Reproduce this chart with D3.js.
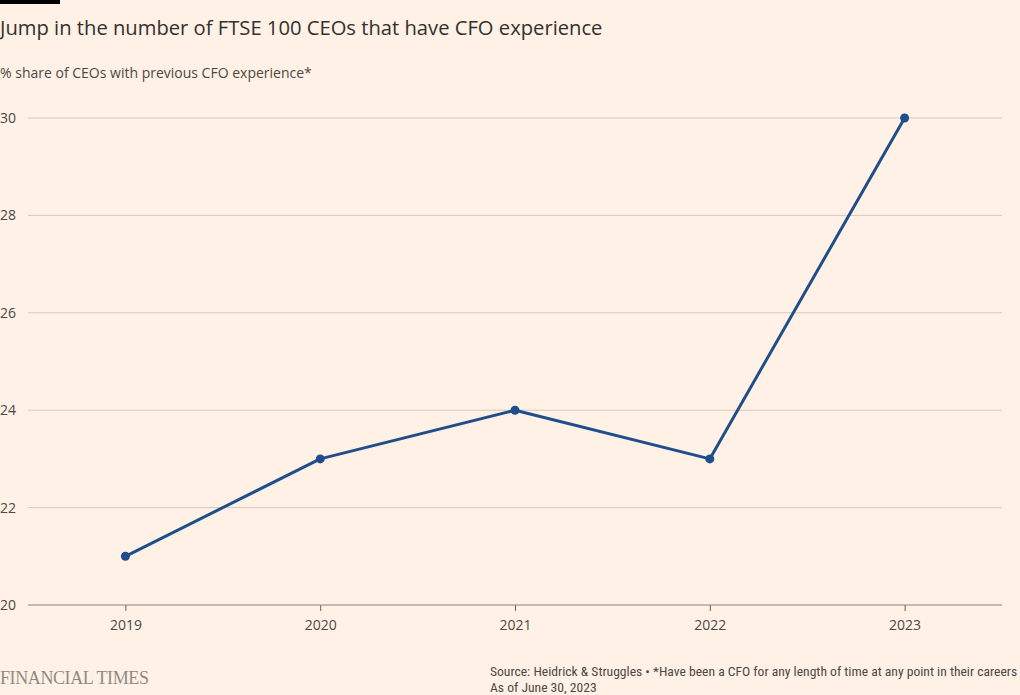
<!DOCTYPE html>
<html><head><meta charset="utf-8">
<script src="https://cdn.jsdelivr.net/npm/d3@7"></script>
<style>
html,body{margin:0;padding:0;background:#fff1e5;}
svg{display:block;font-family:"Open Sans","Noto Sans",sans-serif;}
</style></head><body>
<svg id="c" width="1020" height="695"></svg>
<script>
const years = ["2019","2020","2021","2022","2023"];
const shareValues = [21, 23, 24, 23, 30];
const yTicks = [20, 22, 24, 26, 28, 30];

(function(){
const svg = d3.select("#c");
const W = 1020, H = 695;
const mLeft = 28, mRight = 1002, mTop = 118, mBottom = 605;

svg.append("rect").attr("width", W).attr("height", H).attr("fill", "#fff1e5");
svg.append("rect").attr("x", 0).attr("y", 0).attr("width", 60).attr("height", 4).attr("fill", "#000");

svg.append("text").attr("x", 0).attr("y", 35).attr("font-size", 20.2).attr("fill", "#33302e")
  .text("Jump in the number of FTSE 100 CEOs that have CFO experience");
svg.append("text").attr("x", 0).attr("y", 78).attr("font-size", 14).attr("fill", "#4d4845")
  .text("% share of CEOs with previous CFO experience*");

const x = d3.scalePoint().domain(years).range([mLeft, mRight]).padding(0.5);
const y = d3.scaleLinear().domain([20, 30]).range([mBottom, mTop]);

const grid = svg.append("g");
grid.selectAll("line").data(yTicks.filter(t => t !== 20)).join("line")
  .attr("x1", mLeft).attr("x2", mRight)
  .attr("y1", d => y(d)).attr("y2", d => y(d))
  .attr("stroke", "#d9c8bb").attr("stroke-width", 1);

svg.append("g").selectAll("text").data(yTicks).join("text")
  .attr("x", 0).attr("y", d => y(d) + 5)
  .attr("font-size", 14).attr("fill", "#4d4845")
  .text(d => d);

const xAxis = d3.axisBottom(x).tickSize(6).tickPadding(9);
const xg = svg.append("g").attr("transform", `translate(0,${mBottom})`).call(xAxis);
xg.select(".domain").remove();
xg.selectAll(".tick line").attr("stroke", "#66605c");
xg.selectAll(".tick text").attr("font-size", 14).attr("fill", "#4d4845").attr("font-family", "'Open Sans','Noto Sans',sans-serif");
svg.append("line").attr("x1", mLeft).attr("x2", mRight).attr("y1", mBottom).attr("y2", mBottom)
  .attr("stroke", "#8a817b").attr("stroke-width", 1);

const data = years.map((yr, i) => ({yr, v: shareValues[i]}));
const lineColor = "#1f4e8a";
svg.append("path").datum(data)
  .attr("d", d3.line().x(d => x(d.yr)).y(d => y(d.v)))
  .attr("fill", "none").attr("stroke", lineColor).attr("stroke-width", 3)
  .attr("stroke-linejoin", "round");
svg.append("g").selectAll("circle").data(data).join("circle")
  .attr("cx", d => x(d.yr)).attr("cy", d => y(d.v)).attr("r", 4.5)
  .attr("fill", lineColor);

svg.append("text").attr("x", 0).attr("y", 684)
  .attr("font-family", "'Liberation Serif','DejaVu Serif',serif")
  .attr("font-size", 18).attr("fill", "#8f8a86").attr("letter-spacing", "-0.4")
  .text("FINANCIAL TIMES");
svg.append("text").attr("x", 490).attr("y", 676)
  .attr("font-family", "'Liberation Sans Narrow','Roboto Condensed','Liberation Sans',sans-serif")
  .attr("font-size", 13.6).attr("fill", "#4d4845")
  .text("Source: Heidrick & Struggles • *Have been a CFO for any length of time at any point in their careers");
svg.append("text").attr("x", 490).attr("y", 692)
  .attr("font-family", "'Liberation Sans Narrow','Roboto Condensed','Liberation Sans',sans-serif")
  .attr("font-size", 13.6).attr("fill", "#4d4845")
  .text("As of June 30, 2023");
})();
</script>
</body></html>
